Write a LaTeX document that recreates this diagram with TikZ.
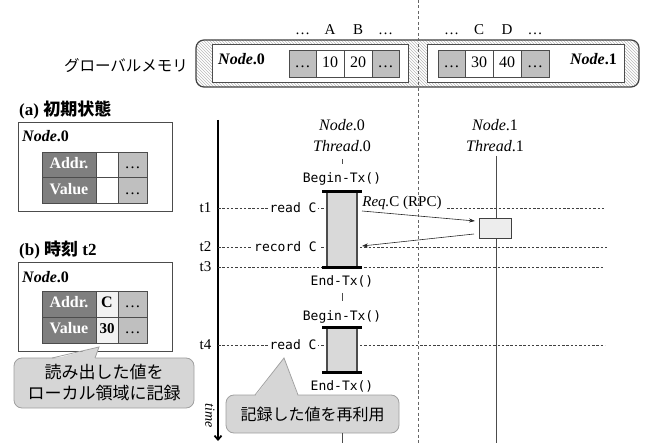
\documentclass[tikz,border=0pt]{standalone}
\usepackage{fontspec}
\setmainfont{Liberation Serif}
\setmonofont{DejaVu Sans Mono}
\newfontfamily\cjk{Noto Sans CJK JP}
\usetikzlibrary{patterns,arrows.meta}
\definecolor{hdr}{HTML}{7F7F7F}
\definecolor{gcl}{HTML}{BFBFBF}
\definecolor{txf}{HTML}{D9D9D9}
\definecolor{calf}{HTML}{D6D6D6}
\definecolor{cald}{HTML}{A0A0A0}
\tikzset{
  x=1pt, y=-1pt,
  fs/.style={font=\fontsize{#1}{#1}\selectfont},
  cell/.style={draw=black!70, line width=0.8pt, minimum height=27pt, inner sep=0pt, text height=10.5pt, text depth=2.5pt, fs=16},
  gcell/.style={cell, fill=gcl},
  wcell/.style={cell, fill=white},
  hcell/.style={cell, fill=hdr, text=white, font=\fontsize{16}{16}\selectfont\bfseries},
  panel/.style={draw=black!70, line width=0.8pt, fill=white, inner sep=0pt},
  lbl/.style={inner sep=1pt, fs=15},
  seq/.style={inner sep=1pt, fs=16},
  tt/.style={inner sep=2pt, fill=white, font=\fontsize{13}{13}\selectfont\ttfamily},
  dline/.style={dashed, dash pattern=on 2.5pt off 1.8pt, black!75, line width=0.7pt},
  txbox/.style={draw=black!70, fill=txf, line width=1.4pt, minimum width=30pt, inner sep=0pt},
  bar/.style={line width=3pt, black},
  arr/.style={-{Stealth[length=6pt,width=4pt]}, line width=0.6pt, black!85},
  calbox/.style={fill=calf, draw=cald, line width=0.8pt, rounded corners=8pt, inner sep=0pt, align=center, font=\cjk},
}
\begin{document}
\begin{tikzpicture}
\useasboundingbox (0,0) rectangle (645,443);

% ---------------- global memory ----------------
\draw[pattern=north west lines, pattern color=black!28, draw=black!75, line width=1.2pt, rounded corners=8pt] (196,40) rectangle (639,87);
\node[panel, minimum width=196pt, minimum height=38pt] (m0) at (310,63) {};
\node[panel, minimum width=197pt, minimum height=38pt] (m1) at (525.5,63) {};
\node[anchor=west, inner sep=0pt, fs=16] (m0l) at (218,59) {\textbf{\textit{Node}.0}};
\node[anchor=east, inner sep=0pt, fs=16] (m1l) at (617,59) {\textbf{\textit{Node}.1}};

\node[gcell, minimum width=27pt] (g1) at (302.5,63.5) {\dots};
\node[wcell, minimum width=28pt] (g2) at (330,63.5) {10};
\node[wcell, minimum width=28pt] (g3) at (358,63.5) {20};
\node[gcell, minimum width=27pt] (g4) at (385.5,63.5) {\dots};
\node[gcell, minimum width=27pt] (h1) at (451.5,63.5) {\dots};
\node[wcell, minimum width=28pt] (h2) at (479,63.5) {30};
\node[wcell, minimum width=28pt] (h3) at (507,63.5) {40};
\node[gcell, minimum width=28pt] (h4) at (535,63.5) {\dots};

\node[anchor=base, fs=15, inner sep=0pt] (l1) at (302.5,35) {\dots};
\node[anchor=base, fs=15, inner sep=0pt] (l2) at (330,35) {A};
\node[anchor=base, fs=15, inner sep=0pt] (l3) at (358,35) {B};
\node[anchor=base, fs=15, inner sep=0pt] (l4) at (385.5,35) {\dots};
\node[anchor=base, fs=15, inner sep=0pt] (l5) at (451.5,35) {\dots};
\node[anchor=base, fs=15, inner sep=0pt] (l6) at (479,35) {C};
\node[anchor=base, fs=15, inner sep=0pt] (l7) at (507,35) {D};
\node[anchor=base, fs=15, inner sep=0pt] (l8) at (535,35) {\dots};

\node[inner sep=0pt, font=\fontsize{15.5}{15.5}\selectfont\cjk] (gm) at (126,66) {グローバルメモリ};

% divider
\coordinate (dvt) at (418,0);
\coordinate (dvb) at (418,443);
\draw[dashed, dash pattern=on 3pt off 2.5pt, black!60, line width=0.8pt] (dvt) -- (dvb);

% ---------------- (a) ----------------
\node[anchor=west, inner sep=0pt, fs=17] (ha) at (19,110) {\textbf{(a) {\cjk\bfseries 初期状態}}};
\node[panel, minimum width=154pt, minimum height=89pt] (pa) at (95,166.5) {};
\node[anchor=west, inner sep=0pt, fs=16] (pal) at (22,136) {\textbf{\textit{Node}.0}};
\node[hcell, minimum width=54pt, minimum height=25.5pt] (a11) at (69,165) {Addr.};
\node[wcell, minimum width=22pt, minimum height=25.5pt] (a12) at (107,165) {};
\node[gcell, minimum width=29pt, minimum height=25.5pt] (a13) at (132.5,165) {\dots};
\node[hcell, minimum width=54pt, minimum height=25.5pt] (a21) at (69,190.5) {Value};
\node[wcell, minimum width=22pt, minimum height=25.5pt] (a22) at (107,190.5) {};
\node[gcell, minimum width=29pt, minimum height=25.5pt] (a23) at (132.5,190.5) {\dots};

% ---------------- (b) ----------------
\node[anchor=west, inner sep=0pt, fs=17] (hb) at (19,250) {\textbf{(b) {\cjk\bfseries 時刻} t2}};
\node[panel, minimum width=154pt, minimum height=89pt] (pb) at (95,306.5) {};
\node[anchor=west, inner sep=0pt, fs=16] (pbl) at (22,277) {\textbf{\textit{Node}.0}};
\node[hcell, minimum width=54pt, minimum height=26pt] (b11) at (69,304) {Addr.};
\node[cell, fill=black!5, minimum width=22pt, minimum height=26pt, font=\fontsize{16}{16}\selectfont\bfseries] (b12) at (107,304) {C};
\node[gcell, minimum width=29pt, minimum height=26pt] (b13) at (132.5,304) {\dots};
\node[hcell, minimum width=54pt, minimum height=26pt] (b21) at (69,330) {Value};
\node[cell, fill=black!5, minimum width=22pt, minimum height=26pt, font=\fontsize{15}{15}\selectfont\bfseries] (b22) at (107,330) {30};
\node[gcell, minimum width=29pt, minimum height=26pt] (b23) at (132.5,330) {\dots};

% left callout
\node[calbox, minimum width=180pt, minimum height=50pt, font=\fontsize{17}{21}\selectfont\cjk] (c1) at (104,383) {読み出した値を\\ローカル領域に記録};
\coordinate (p1) at (99,347);
\fill[calf] (52,359.5) -- (p1) -- (95,359.5) -- cycle;
\draw[cald, line width=0.8pt] (52,358) -- (p1) -- (95,358);

% ---------------- time axis ----------------
\coordinate (ttop) at (218,120);
\coordinate (tbot) at (218,441);
\draw[line width=1.8pt, -{Straight Barb[length=4pt,width=7pt]}] (ttop) -- (tbot);
\node[rotate=-90, inner sep=0pt, fs=14] (tm) at (210,416) {\textit{time}};

\node[lbl] (t1) at (205.5,208) {t1};
\node[lbl] (t2) at (205.5,247) {t2};
\node[lbl] (t3) at (205.5,267) {t3};
\node[lbl] (t4) at (205.5,345) {t4};

\draw[dline] (218,208) -- (327,208);
\draw[dline] (447,208) -- (604,208);
\draw[dline] (218,247) -- (607,247);
\draw[dline] (218,267) -- (604,267);
\draw[dline] (218,345) -- (605,345);

% ---------------- thread 1 ----------------
\node[seq] (n1) at (495,125) {\textit{Node}.1};
\node[seq] (th1) at (495,146) {\textit{Thread}.1};
\coordinate (th1e) at (496,443);
\draw[black!70, line width=1pt] (496,156) -- (th1e);
\node[draw=black!75, fill=black!7, line width=0.9pt, minimum width=32pt, minimum height=20pt, inner sep=0pt] (rpc) at (495,228) {};

% ---------------- thread 0 ----------------
\node[seq] (n0) at (342,125) {\textit{Node}.0};
\node[seq] (th0) at (342,146) {\textit{Thread}.0};
\node[tt, fill=none] (bg1) at (342,179) {Begin-Tx()};
\draw[black!70, line width=0.6pt] (342,159) -- (342,164);
\node[txbox, minimum height=75pt] (tx1) at (342,229.5) {};
\draw[bar] ([xshift=-4pt]tx1.north west) -- ([xshift=4pt]tx1.north east);
\draw[bar] ([xshift=-4pt]tx1.south west) -- ([xshift=4pt]tx1.south east);
\node[tt, fill=none] (en1) at (342,281) {End-Tx()};
\draw[black!70, line width=0.6pt] (342,293) -- (342,301);
\node[tt, fill=none] (bg2) at (342,317) {Begin-Tx()};
\node[txbox, minimum height=44pt] (tx2) at (342,350) {};
\draw[bar] ([xshift=-4pt]tx2.north west) -- ([xshift=4pt]tx2.north east);
\draw[bar] ([xshift=-4pt]tx2.south west) -- ([xshift=4pt]tx2.south east);
\node[tt, fill=none] (en2) at (342,386) {End-Tx()};

\node[tt] (rd1) at (293,208) {read C};
\node[tt] (rc2) at (285.5,247) {record C};
\node[tt] (rd4) at (293,345) {read C};

% RPC
\node[inner sep=0pt, fs=15] (req) at (402,203) {\textit{Req.}C (RPC)};
\coordinate (qa) at (362,211);
\coordinate (qb) at (475,221);
\coordinate (ra) at (474,234);
\coordinate (rb) at (362,246);
\draw[arr] (qa) -- (qb);
\draw[arr] (ra) -- (rb);

% right callout
\node[calbox, minimum width=173pt, minimum height=38pt, font=\fontsize{16}{16}\selectfont\cjk] (c2) at (312.5,414) {記録した値を再利用};
\coordinate (p2) at (284,358);
\fill[calf] (255,396.5) -- (p2) -- (298,396.5) -- cycle;
\draw[cald, line width=0.8pt] (255,395) -- (p2) -- (298,395);
\coordinate (tl0) at (342,433);
\coordinate (tl1) at (342,443);
\draw[black!70, line width=1pt] (tl0) -- (tl1);
\end{tikzpicture}
\end{document}
